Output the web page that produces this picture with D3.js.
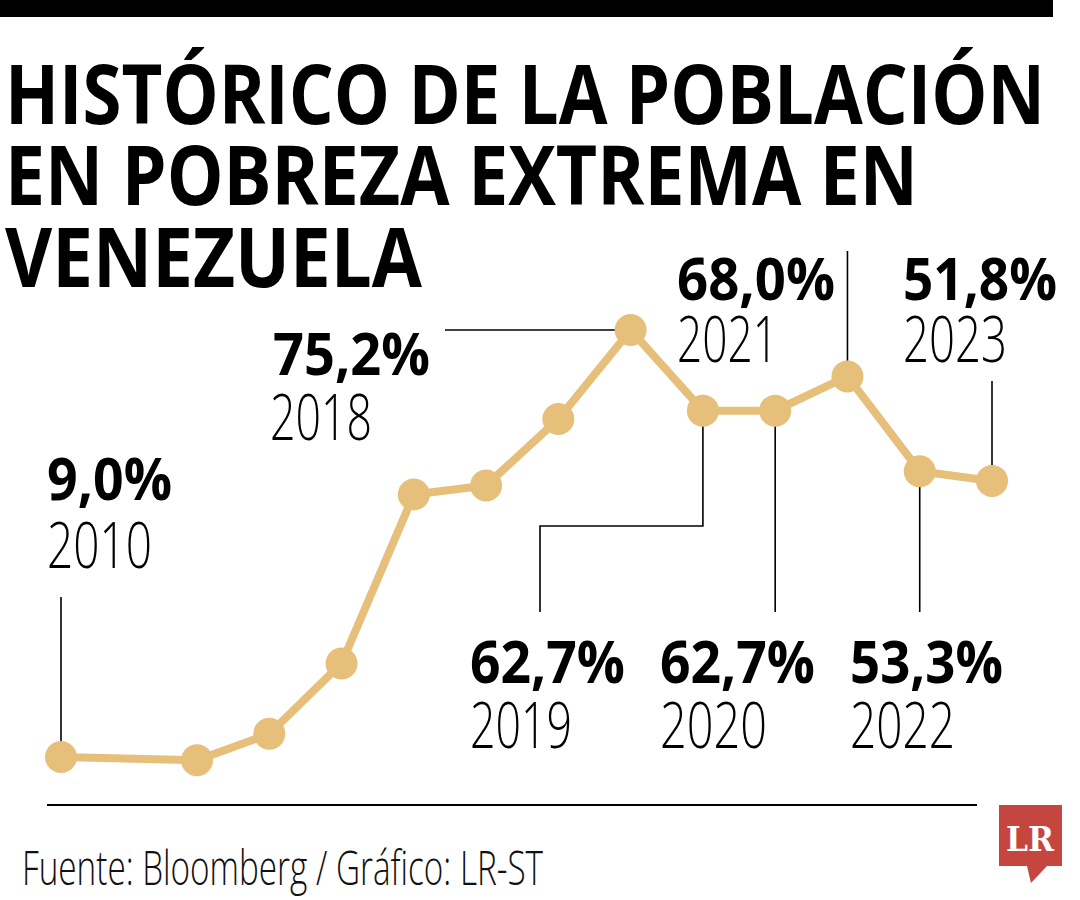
<!DOCTYPE html>
<html>
<head>
<meta charset="utf-8">
<script src="https://cdn.jsdelivr.net/npm/d3@7"></script>
<style>
  html, body { margin: 0; padding: 0; background: #fff; }
  svg { display: block; }
</style>
</head>
<body>
<div id="chart"></div>
<script>
// ---- Data ----
const years = [2010, 2012, 2013, 2014, 2015, 2016, 2017, 2018, 2019, 2020, 2021, 2022, 2023];
const values = [9.0, 8.5, 12.6, 23.5, 49.7, 51.1, 61.4, 75.2, 62.7, 62.7, 68.0, 53.3, 51.8];
const labelYears = [2010, 2018, 2019, 2020, 2021, 2022, 2023];
const labelTexts = ["9,0%", "75,2%", "62,7%", "62,7%", "68,0%", "53,3%", "51,8%"];
const titleLines = ["HISTÓRICO DE LA POBLACIÓN", "EN POBREZA EXTREMA EN", "VENEZUELA"];
const sourceText = "Fuente: Bloomberg / Gráfico: LR-ST";

// ---- Layout ----
const W = 1080, H = 900;
const lineColor = "#e6bf7b";
const svg = d3.select("#chart").append("svg").attr("width", W).attr("height", H);

const x = d3.scaleLinear().domain([2010, 2012, 2023]).range([61, 197, 992]);
const y = d3.scaleLinear().domain([9, 75.2]).range([757, 330]);

// top bar
svg.append("rect").attr("x", 0).attr("y", 0).attr("width", 1053).attr("height", 17).attr("fill", "#000");

// title
const titleSpecs = [
  {baseline: 124, width: 1040},
  {baseline: 205, width: 913},
  {baseline: 287, width: 417}
];
titleLines.forEach((t, i) => {
  svg.append("text")
    .attr("x", 5).attr("y", titleSpecs[i].baseline)
    .attr("textLength", titleSpecs[i].width).attr("lengthAdjust", "spacingAndGlyphs")
    .attr("font-family", "'Open Sans', 'DejaVu Sans', sans-serif")
    .attr("font-weight", 700).attr("font-size", 83).attr("fill", "#000")
    .text(t);
});

// leader lines
const leader = svg.append("g").attr("stroke", "#000").attr("stroke-width", 1.6).attr("fill", "none");
const px = yr => x(yr);
const py = yr => y(values[years.indexOf(yr)]);
leader.append("path").attr("d", `M${px(2010)},597 V${py(2010)}`);
leader.append("path").attr("d", `M445,${py(2018)} H${px(2018)}`);
leader.append("path").attr("d", `M${px(2019)},${py(2019)} V526 H540 V612`);
leader.append("path").attr("d", `M${px(2020)},${py(2020)} V612`);
leader.append("path").attr("d", `M${px(2022)},${py(2022)} V612`);
leader.append("path").attr("d", `M${px(2021)},${py(2021)} V251`);
leader.append("path").attr("d", `M${px(2023)},${py(2023)} V381`);

// line
const lineGen = d3.line().x((d, i) => x(years[i])).y(d => y(d));
svg.append("path").datum(values)
  .attr("d", lineGen).attr("fill", "none")
  .attr("stroke", lineColor).attr("stroke-width", 8).attr("stroke-linejoin", "round");

svg.selectAll("circle.pt").data(values).enter().append("circle")
  .attr("class", "pt")
  .attr("cx", (d, i) => x(years[i])).attr("cy", d => y(d))
  .attr("r", 16).attr("fill", lineColor);

// labels
const labelPos = {
  2010: {x: 47, pb: 500, pw: 125, yb: 568, yw: 105},
  2018: {x: 273, pb: 375, pw: 157, yb: 440, yw: 102, yx: 270},
  2019: {x: 470, pb: 683, pw: 155, yb: 748, yw: 102},
  2020: {x: 660, pb: 683, pw: 155, yb: 748, yw: 107},
  2021: {x: 677, pb: 300, pw: 158, yb: 362, yw: 101},
  2022: {x: 850, pb: 683, pw: 153, yb: 748, yw: 105},
  2023: {x: 903, pb: 300, pw: 154, yb: 362, yw: 104}
};
labelYears.forEach((yr, i) => {
  const p = labelPos[yr];
  svg.append("text")
    .attr("x", p.x).attr("y", p.pb)
    .attr("textLength", p.pw).attr("lengthAdjust", "spacingAndGlyphs")
    .attr("font-family", "'Open Sans', 'DejaVu Sans', sans-serif")
    .attr("font-weight", 700).attr("font-size", 59).attr("fill", "#000")
    .text(labelTexts[i]);
  svg.append("text")
    .attr("x", p.yx || p.x).attr("y", p.yb)
    .attr("textLength", p.yw).attr("lengthAdjust", "spacingAndGlyphs")
    .attr("font-family", "'Open Sans', 'DejaVu Sans', sans-serif")
    .attr("font-weight", 300).attr("font-size", 64).attr("fill", "#000")
    .text(String(yr));
});

// bottom rule
svg.append("line").attr("x1", 47).attr("x2", 977).attr("y1", 805).attr("y2", 805)
  .attr("stroke", "#000").attr("stroke-width", 2);

// source
svg.append("text")
  .attr("x", 22).attr("y", 885)
  .attr("textLength", 521).attr("lengthAdjust", "spacingAndGlyphs")
  .attr("font-family", "'Open Sans', 'DejaVu Sans', sans-serif")
  .attr("font-weight", 300).attr("font-size", 48).attr("fill", "#111")
  .text(sourceText);

// LR logo
const logo = svg.append("g");
logo.append("path")
  .attr("d", "M999,805 H1062 V866 H1047 L1031,883 L1027,866 H999 Z")
  .attr("fill", "#c4463f");
logo.append("text")
  .attr("x", 1030).attr("y", 851).attr("text-anchor", "middle")
  .attr("font-family", "'DejaVu Serif', 'Liberation Serif', serif")
  .attr("font-weight", 700).attr("font-size", 34).attr("fill", "#fff")
  .attr("textLength", 48).attr("lengthAdjust", "spacingAndGlyphs")
  .text("LR");
</script>
</body>
</html>
